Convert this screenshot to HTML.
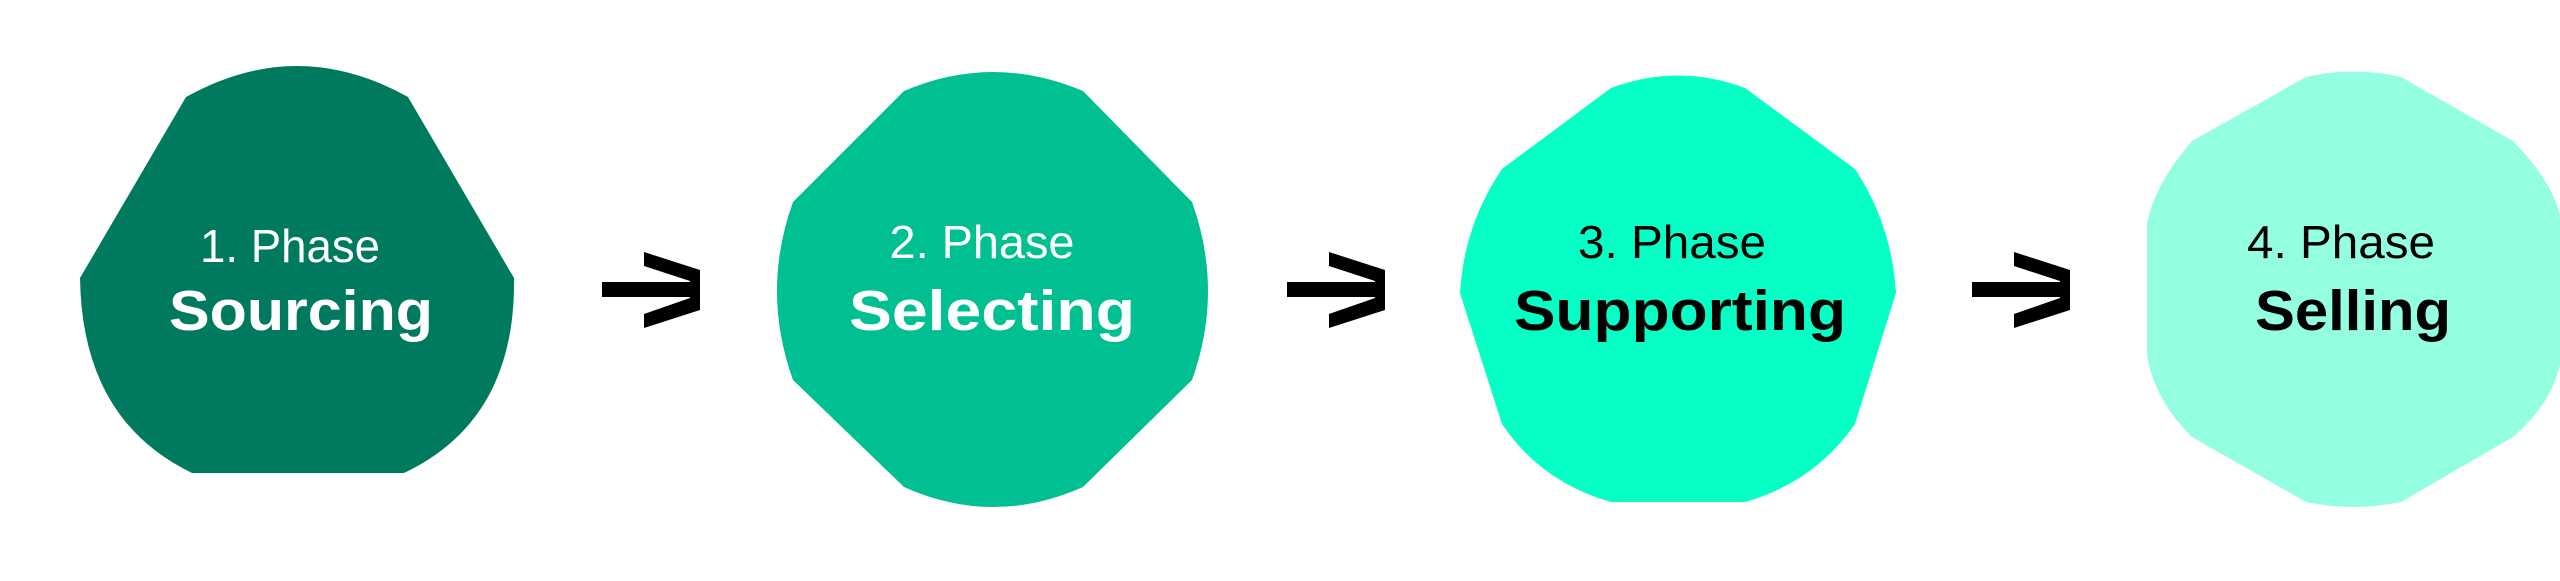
<!DOCTYPE html>
<html><head><meta charset="utf-8"><style>
html,body{margin:0;padding:0;background:#fff;}
svg{display:block;}
text{font-family:"Liberation Sans",sans-serif;}
</style></head><body>
<svg width="2560" height="581" viewBox="0 0 2560 581" xmlns="http://www.w3.org/2000/svg">
<rect width="2560" height="581" fill="#fff"/>
<path d="M186,97 Q297,35 408,97 L514,278 Q516,420 404,473 L192,473 Q82,420 80,278 Z" fill="#007A5F"/>
<path d="M904,91 Q993,53 1083,91 L1192,202 Q1224,291 1192,380 L1083,487 Q993,527 904,487 L793,380 Q761,291 793,202 Z" fill="#00BF91"/>
<path d="M1611,88 Q1678,63 1745,88 L1855,169 Q1892,225 1896,293 L1855,424 Q1815,482 1745,502 L1611,502 Q1541,482 1502,424 L1460,293 Q1464,225 1502,169 Z" fill="#05FFC4"/>
<path d="M2306,77 Q2353,66 2401,77 L2513,141 Q2556,185 2562,224 L2562,354 Q2556,400 2513,437 L2401,502 Q2353,512 2306,502 L2192,437 Q2154,400 2147,354 L2147,224 Q2154,185 2192,141 Z" fill="#94FFE0"/>
<g fill="#000">
<g transform="translate(602,0)"><rect x="0" y="282" width="90" height="15"/><polygon points="42,252 98,270 98,310 42,328 42,314 88,298 88,281 42,266"/></g>
<g transform="translate(1287,0)"><rect x="0" y="282" width="90" height="15"/><polygon points="42,252 98,270 98,310 42,328 42,314 88,298 88,281 42,266"/></g>
<g transform="translate(1972,0)"><rect x="0" y="282" width="90" height="15"/><polygon points="42,252 98,270 98,310 42,328 42,314 88,298 88,281 42,266"/></g>
</g>
<g text-anchor="middle">
<text x="290" y="262" font-size="46" fill="#fff" textLength="180" lengthAdjust="spacingAndGlyphs">1. Phase</text>
<text x="301" y="330" font-size="57" font-weight="bold" fill="#fff" textLength="264" lengthAdjust="spacingAndGlyphs">Sourcing</text>
<text x="982" y="258" font-size="46" fill="#fff" textLength="185" lengthAdjust="spacingAndGlyphs">2. Phase</text>
<text x="992" y="330" font-size="57" font-weight="bold" fill="#fff" textLength="286" lengthAdjust="spacingAndGlyphs">Selecting</text>
<text x="1672" y="258" font-size="46" fill="#000" textLength="188" lengthAdjust="spacingAndGlyphs">3. Phase</text>
<text x="1680" y="330" font-size="57" font-weight="bold" fill="#000" textLength="332" lengthAdjust="spacingAndGlyphs">Supporting</text>
<text x="2341" y="258" font-size="46" fill="#000" textLength="188" lengthAdjust="spacingAndGlyphs">4. Phase</text>
<text x="2353" y="330" font-size="57" font-weight="bold" fill="#000" textLength="196" lengthAdjust="spacingAndGlyphs">Selling</text>
</g>
</svg>
</body></html>
